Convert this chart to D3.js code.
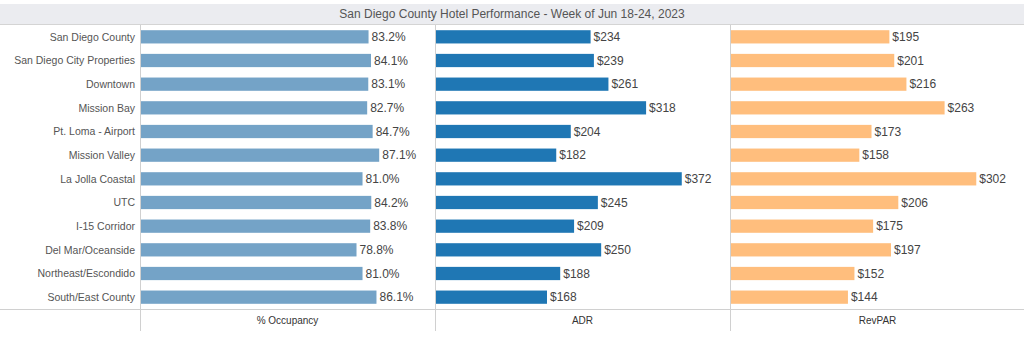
<!DOCTYPE html>
<html>
<head>
<meta charset="utf-8">
<script src="https://cdn.jsdelivr.net/npm/d3@7"></script>
<style>
  body { margin: 0; background: #fff; }
  svg { display: block; font-family: "Liberation Sans", Arial, sans-serif; }
</style>
</head>
<body>
<div id="chart"></div>
<script>
// Data
var title = 'San Diego County Hotel Performance - Week of Jun 18-24, 2023';
var regions = ['San Diego County', 'San Diego City Properties', 'Downtown', 'Mission Bay',
  'Pt. Loma - Airport', 'Mission Valley', 'La Jolla Coastal', 'UTC', 'I-15 Corridor',
  'Del Mar/Oceanside', 'Northeast/Escondido', 'South/East County'];
var occupancy = [83.2, 84.1, 83.1, 82.7, 84.7, 87.1, 81.0, 84.2, 83.8, 78.8, 81.0, 86.1];
var adr = [234, 239, 261, 318, 204, 182, 372, 245, 209, 250, 188, 168];
var revpar = [195, 201, 216, 263, 173, 158, 302, 206, 175, 197, 152, 144];
var measures = ['% Occupancy', 'ADR', 'RevPAR'];

var width = 1024, height = 337;
var panelLeft = 140, panelWidth = 295;
var rowsTop = 25, rowsBottom = 309;

var panels = [
  { name: measures[0], values: occupancy, max: 107.5, color: '#74a3c7', fmt: function(v) { return v.toFixed(1) + '%'; } },
  { name: measures[1], values: adr, max: 445, color: '#1f77b4', fmt: function(v) { return '$' + v; } },
  { name: measures[2], values: revpar, max: 362, color: '#ffbe7d', fmt: function(v) { return '$' + v; } }
];

var svg = d3.select('#chart').append('svg')
  .attr('width', width)
  .attr('height', height);

// Title band
svg.append('rect')
  .attr('x', 0).attr('y', 4)
  .attr('width', width).attr('height', 20)
  .attr('fill', '#ebecf0');
svg.append('line')
  .attr('x1', 0).attr('x2', width)
  .attr('y1', 24.5).attr('y2', 24.5)
  .attr('stroke', '#d4d4d4');
svg.append('text')
  .attr('x', 512).attr('y', 18)
  .attr('text-anchor', 'middle')
  .attr('font-size', 12)
  .attr('fill', '#555')
  .text(title);

// Rows
var y = d3.scaleBand()
  .domain(regions)
  .range([rowsTop, rowsBottom])
  .paddingInner(0.44)
  .paddingOuter(0.22);

// Category labels
svg.append('g')
  .selectAll('text')
  .data(regions)
  .join('text')
  .attr('x', panelLeft - 5)
  .attr('y', function(d) { return y(d) + y.bandwidth() / 2; })
  .attr('dy', '0.35em')
  .attr('text-anchor', 'end')
  .attr('font-size', 10.5)
  .attr('fill', '#555')
  .text(function(d) { return d; });

panels.forEach(function(p, i) {
  var x0 = panelLeft + i * panelWidth;
  var x = d3.scaleLinear().domain([0, p.max]).range([x0 + 1, x0 + panelWidth]);
  var g = svg.append('g');

  g.selectAll('rect')
    .data(p.values)
    .join('rect')
    .attr('x', x(0))
    .attr('y', function(d, j) { return y(regions[j]); })
    .attr('width', function(d) { return x(d) - x(0); })
    .attr('height', y.bandwidth())
    .attr('fill', p.color);

  g.selectAll('text.val')
    .data(p.values)
    .join('text')
    .attr('class', 'val')
    .attr('x', function(d) { return x(d) + 3; })
    .attr('y', function(d, j) { return y(regions[j]) + y.bandwidth() / 2; })
    .attr('dy', '0.36em')
    .attr('font-size', 12)
    .attr('fill', '#444')
    .text(function(d) { return p.fmt(d); });

  // Panel divider
  svg.append('line')
    .attr('x1', x0 + 0.5).attr('x2', x0 + 0.5)
    .attr('y1', rowsTop).attr('y2', 331)
    .attr('stroke', '#d0d0d0');

  // Measure title
  svg.append('text')
    .attr('x', x0 + panelWidth / 2)
    .attr('y', 324)
    .attr('text-anchor', 'middle')
    .attr('font-size', 10)
    .attr('fill', '#333')
    .text(p.name);
});

// Bottom rule
svg.append('line')
  .attr('x1', 0).attr('x2', width)
  .attr('y1', rowsBottom + 0.5).attr('y2', rowsBottom + 0.5)
  .attr('stroke', '#d0d0d0');
</script>
</body>
</html>
